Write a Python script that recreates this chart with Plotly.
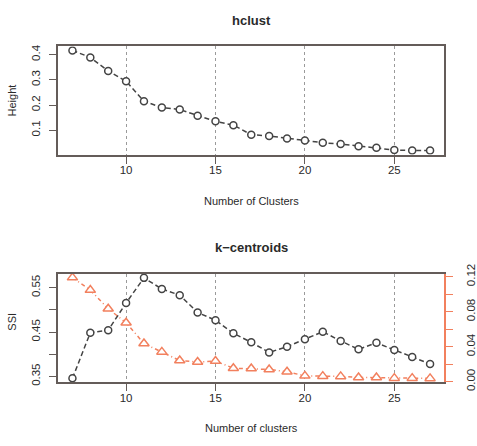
import plotly.graph_objects as go

clusters = list(range(7, 28))
hclust_height = [0.417, 0.389, 0.335, 0.294, 0.215, 0.190, 0.182, 0.157, 0.135, 0.120,
                 0.082, 0.077, 0.067, 0.059, 0.050, 0.045, 0.036, 0.030, 0.021, 0.019, 0.019]
ssi = [0.3457, 0.4486, 0.454, 0.5155, 0.572, 0.547, 0.533, 0.494, 0.4766, 0.447,
       0.4268, 0.404, 0.417, 0.4335, 0.4507, 0.4299, 0.411, 0.4256, 0.4097, 0.3937, 0.378]
second = [0.119, 0.1047, 0.0834, 0.0674, 0.0436, 0.034, 0.0241, 0.0224, 0.0235, 0.0154,
          0.015, 0.0139, 0.0114, 0.0066, 0.0063, 0.006, 0.0048, 0.0048, 0.004, 0.004, 0.0037]
x_ticks = [10, 15, 20, 25]
h_ticks = [0.1, 0.2, 0.3, 0.4]
ssi_ticks = [0.35, 0.40, 0.45, 0.50, 0.55]
ssi_ticktext = ["0.35", "", "0.45", "", "0.55"]
r_ticks = [0.00, 0.02, 0.04, 0.06, 0.08, 0.10, 0.12]
r_ticktext = ["0.00", "", "0.04", "", "0.08", "", "0.12"]

W, H = 477, 446
BOX = "#645c59"
LINE = "#444444"
ORANGE = "#f2805e"
TXT = "#2a2a2a"
FONT = "Liberation Sans, Arial, sans-serif"

def px_x(p):
    return p / W

def px_y(p):
    return 1 - p / H

fig = go.Figure()

fig.add_trace(go.Scatter(
    x=clusters, y=hclust_height, mode="lines+markers", xaxis="x", yaxis="y",
    line=dict(color=LINE, width=1.5, dash="5px,3px"),
    marker=dict(symbol="circle", size=7, color="white", line=dict(color=LINE, width=1.5)),
    showlegend=False))

fig.add_trace(go.Scatter(
    x=clusters, y=ssi, mode="lines+markers", xaxis="x2", yaxis="y2",
    line=dict(color=LINE, width=1.5, dash="5px,3px"),
    marker=dict(symbol="circle", size=7, color="white", line=dict(color=LINE, width=1.5)),
    showlegend=False))

fig.add_trace(go.Scatter(
    x=clusters, y=second, mode="lines+markers", xaxis="x2", yaxis="y3",
    line=dict(color=ORANGE, width=1.5, dash="4px,3px,1px,3px"),
    marker=dict(symbol="triangle-up", size=9, color="white", line=dict(color=ORANGE, width=1.5)),
    showlegend=False))

xdom = [px_x(59), px_x(451)]
tickfont = dict(family=FONT, size=11.5, color=TXT)

common_x = dict(
    domain=xdom, range=[6.2, 27.8], tickvals=x_ticks, ticks="outside", ticklen=7,
    tickcolor=BOX, tickwidth=1, showline=True, linecolor=BOX, linewidth=2, mirror=True,
    showgrid=True, gridcolor="#9a9a9a", griddash="3px,3px", gridwidth=1,
    zeroline=False, tickfont=tickfont, ticklabelstandoff=-3)

common_y = dict(
    ticks="outside", ticklen=7, tickcolor=BOX, tickwidth=1, showline=True,
    linecolor=BOX, linewidth=2, mirror=True, showgrid=False, zeroline=False,
    tickangle=-90, tickfont=tickfont, ticklabelstandoff=5)

fig.update_layout(
    width=W, height=H, margin=dict(l=0, r=0, t=0, b=0),
    paper_bgcolor="white", plot_bgcolor="white",
    font=dict(family=FONT, color=TXT),
    xaxis=dict(anchor="y", **common_x),
    yaxis=dict(anchor="x", domain=[px_y(151), px_y(38)], range=[0.003, 0.433],
               tickvals=h_ticks, **common_y),
    xaxis2=dict(anchor="y2", **common_x),
    yaxis2=dict(anchor="x2", domain=[px_y(389), px_y(275.3)], range=[0.3364, 0.5817],
                tickvals=ssi_ticks, ticktext=ssi_ticktext, **common_y),
    yaxis3=dict(anchor="x2", overlaying="y2", side="right", range=[-0.0009, 0.1236],
                tickvals=r_ticks, ticktext=r_ticktext, ticks="outside", ticklen=7,
                tickcolor=ORANGE, tickwidth=1, showline=True, linecolor=ORANGE, linewidth=1.5,
                showgrid=False, zeroline=False, tickangle=-90, tickfont=tickfont,
                ticklabelstandoff=8),
)

ann = [
    dict(text="<b>hclust</b>", x=px_x(255), y=px_y(10.7), size=13, angle=0),
    dict(text="Number of Clusters", x=px_x(255), y=px_y(199), size=11, angle=0),
    dict(text="Height", x=px_x(11.7), y=px_y(95), size=11, angle=-90),
    dict(text="<b>k\u2212centroids</b>", x=px_x(255), y=px_y(248.3), size=13, angle=0),
    dict(text="Number of clusters", x=px_x(255), y=px_y(436.7), size=11, angle=0),
    dict(text="SSI", x=px_x(12.7), y=px_y(326), size=11, angle=-90),
]
for a in ann:
    fig.add_annotation(text=a["text"], x=a["x"], y=a["y"], xref="paper", yref="paper",
                       showarrow=False, xanchor="center", yanchor="middle",
                       textangle=a["angle"], font=dict(family=FONT, size=a["size"], color=TXT))

fig.write_html("out.html", config={"displayModeBar": False})

with open("out.html", "r", encoding="utf-8") as f:
    html = f.read()
html = html.replace("<head>", "<head><style>html,body{margin:0;padding:0;overflow:hidden;}</style>", 1)
with open("out.html", "w", encoding="utf-8") as f:
    f.write(html)
